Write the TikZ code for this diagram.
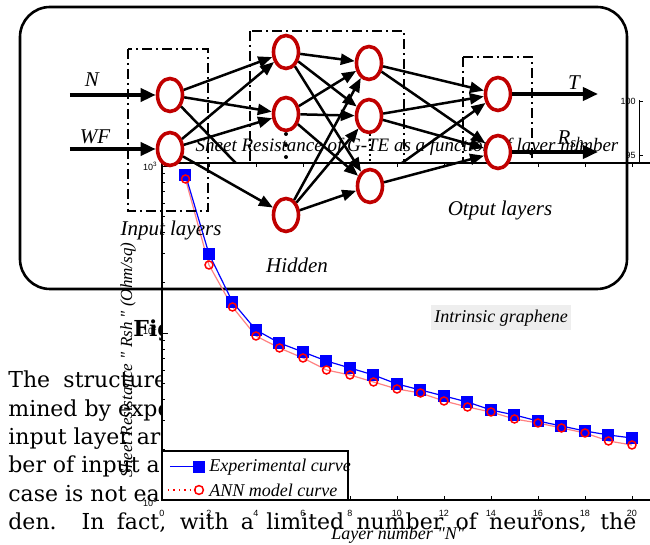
\documentclass[tikz,border=0pt]{standalone}
\usepackage{fontspec}
\usetikzlibrary{arrows.meta,shapes.geometric}
\newfontfamily\timesfont{Liberation Serif}
\newfontfamily\helvfont{Liberation Sans}
\newfontfamily\paperfont{DejaVu Serif}
\definecolor{nodered}{RGB}{192,0,0}
\definecolor{expblue}{RGB}{0,0,255}
\definecolor{annred}{RGB}{255,0,0}
\definecolor{annpink}{RGB}{255,130,130}
\definecolor{labelgray}{RGB}{238,238,238}
\tikzset{
        neuron/.style={ellipse, draw=nodered, line width=1.8pt, fill=white, minimum width=12.5pt, minimum height=16.5pt, inner sep=0pt},
        link/.style={line width=1.25pt, -{Triangle[length=7pt,width=5.5pt]}},
        io/.style={line width=1.8pt, -{Triangle[length=7.5pt,width=6.5pt]}},
        layerbox/.style={line width=1pt, dash pattern=on 5pt off 2pt on 1pt off 2pt},
        lbl/.style={inner sep=0pt, font=\timesfont\itshape\fontsize{10.5}{12}\selectfont},
        plottext/.style={inner sep=0pt, font=\timesfont\itshape\fontsize{9}{10}\selectfont},
        ticklbl/.style={inner sep=0pt, font=\helvfont\fontsize{4.5}{5}\selectfont},
        paper/.style={anchor=base west, inner sep=0pt, font=\paperfont\fontsize{11}{14}\selectfont}
}
\begin{document}
\begin{tikzpicture}[x=0.5pt, y=-0.5pt]
        \useasboundingbox (0,0) rectangle (650,545);
        \node[paper] (p1) at (8,388) {The\hspace{0.6em}structure};
        \node[paper] (p2) at (8,417) {mined by expe};
        \node[paper] (p3) at (8,445) {input layer ar};
        \node[paper] (p4) at (8,473) {ber of input a};
        \node[paper] (p5) at (8,502) {case is not ea};
        \node[paper] (p6) at (8,530) {\makebox[314pt][s]{den. In fact, with a limited number of neurons, the}};
        \node[paper, font=\paperfont\bfseries\fontsize{11}{14}\selectfont] (fig) at (133,337) {Fig};
        \fill[white] (162,163) rectangle (650,500);
        \draw[line width=1.3pt, rounded corners=15pt, fill=white] (20,7) rectangle (627,289);
        \node[plottext, anchor=base, font=\timesfont\itshape\fontsize{9.5}{11}\selectfont] (title) at (407,152) {Sheet Resistance of G-TE as a function of layer number};
        \draw[line width=0.7pt] (162,163) -- (650,163);
        \draw[line width=0.7pt] (162,163) -- (162,500) -- (650,500);
        \foreach \v in {0,2,...,20} {
                \draw[line width=0.4pt] ({162+23.5*\v},163) -- ({162+23.5*\v},167);
                \draw[line width=0.4pt] ({162+23.5*\v},500) -- ({162+23.5*\v},496);
                \node[ticklbl] at ({162+23.5*\v},513) {\v};
        }
        \foreach \k in {2,...,9} {
                \draw[line width=0.4pt] (162,{333-167*log10(\k)}) -- (165,{333-167*log10(\k)});
                \draw[line width=0.4pt] (162,{500-167*log10(\k)}) -- (165,{500-167*log10(\k)});
        }
        \draw[line width=0.4pt] (162,166) -- (168,166);
        \draw[line width=0.4pt] (162,333) -- (168,333);
        \node[ticklbl, anchor=east] (y3) at (158,166) {10\textsuperscript{3}};
        \node[ticklbl, anchor=east] (y2) at (158,330) {10\textsuperscript{2}};
        \node[ticklbl, anchor=east] (y1) at (158,502) {10\textsuperscript{1}};
        \draw[line width=0.4pt] (639,100) -- (639,163);
        \draw[line width=0.4pt] (639,101) -- (643,101);
        \draw[line width=0.4pt] (639,155) -- (643,155);
        \node[ticklbl, anchor=east] (r100) at (636,101) {100};
        \node[ticklbl, anchor=east] (r95) at (636,155) {95};
        \node[plottext, rotate=90, font=\timesfont\itshape\fontsize{8.5}{10}\selectfont] (ylab) at (128,360) {Sheet Resistance " Rsh " (Ohm/sq)};
        \node[plottext, anchor=base] (xlab) at (398,540) {Layer number "N"};
        \node[plottext, fill=labelgray, minimum width=70pt, minimum height=12.5pt] (intr) at (501,318) {Intrinsic graphene};
        \draw[annpink, line width=0.6pt] plot coordinates {(185.5,179) (209,265) (232.5,307) (256,336) (279.5,348) (303,358) (326.5,370) (350,375) (373.5,382) (397,389) (420.5,393) (444,401) (467.5,407) (491,412) (514.5,419) (538,423) (561.5,428) (585,433) (608.5,441) (632,445)};
        \draw[expblue, line width=0.6pt] plot coordinates {(185.5,175) (209,254) (232.5,302) (256,330) (279.5,343) (303,352) (326.5,361) (350,368) (373.5,375) (397,384) (420.5,390) (444,396) (467.5,402) (491,410) (514.5,415) (538,421) (561.5,426) (585,431) (608.5,435) (632,438)};
        \foreach \n/\y in {1/175,2/254,3/302,4/330,5/343,6/352,7/361,8/368,9/375,10/384,11/390,12/396,13/402,14/410,15/415,16/421,17/426,18/431,19/435,20/438}
                \fill[expblue] ({162+23.5*\n},\y) +(-6,-6) rectangle +(6,6);
        \foreach \n/\y in {1/179,2/265,3/307,4/336,5/348,6/358,7/370,8/375,9/382,10/389,11/393,12/401,13/407,14/412,15/419,16/423,17/428,18/433,19/441,20/445}
                \draw[annred, line width=0.75pt] ({162+23.5*\n},\y) circle[radius=2pt];
        \draw[line width=0.6pt, fill=white] (162,451) rectangle (348,500);
        \draw[expblue, line width=0.5pt] (170,467) -- (199,467);
        \fill[expblue] (199,467) +(-6,-6) rectangle +(6,6);
        \node[plottext, anchor=west] (leg1) at (209,467) {Experimental curve};
        \draw[annred, line width=0.7pt, dotted] (168,490) -- (199,490);
        \draw[annred, line width=0.75pt] (199,490) circle[radius=2.2pt];
        \node[plottext, anchor=west] (leg2) at (209,490) {ANN model curve};
        \draw[layerbox] (128,49) rectangle (208,211);
        \draw[layerbox] (250,31) rectangle (404,163);
        \draw[layerbox] (463,57) rectangle (532,163);
        \fill (286,134) circle[radius=1pt];
        \fill (286,145) circle[radius=1pt];
        \fill (286,157) circle[radius=1pt];
        \draw[line width=1.2pt, dash pattern=on 1.2pt off 1.3pt] (370,134) -- (370,162);
        \node[neuron] (in1) at (170,95) {};
        \node[neuron] (in2) at (170,149) {};
        \node[neuron] (ha1) at (286,52) {};
        \node[neuron] (ha2) at (286,114) {};
        \node[neuron] (ha3) at (286,215) {};
        \node[neuron] (hb1) at (369,63) {};
        \node[neuron] (hb2) at (369,116) {};
        \node[neuron] (hb3) at (370,186) {};
        \node[neuron] (out1) at (498,94) {};
        \node[neuron] (out2) at (498,152) {};
        \coordinate (nin) at (70,95);
        \coordinate (wfin) at (70,149);
        \coordinate (tout) at (598,94);
        \coordinate (rout) at (598,152);
        \draw[io] (nin) -- (in1);
        \draw[io] (wfin) -- (in2);
        \draw[io] (out1) -- (tout);
        \draw[io] (out2) -- (rout);
        \draw[link] (in1) -- (ha1);
        \draw[link] (in1) -- (ha2);
        \draw[link] (in2) -- (ha1);
        \draw[link] (in2) -- (ha2);
        \draw[link] (in2) -- (ha3);
        \foreach \a in {ha1,ha2,ha3}
                \foreach \b in {hb1,hb2,hb3}
                        \draw[link] (\a) -- (\b);
        \draw[link] (hb1) -- (out1);
        \draw[link] (hb1) -- (out2);
        \draw[link] (hb2) -- (out1);
        \draw[link] (hb2) -- (out2);
        \draw[link] (hb3) -- (out2);
        \begin{scope}
                \clip (0,0) rectangle (650,163);
                \draw[link] (in1) -- (ha3);
                \draw[link] (hb3) -- (out1);
        \end{scope}
        \node[lbl] (nlab) at (92,80) {N};
        \node[lbl] (wflab) at (95,137) {WF};
        \node[lbl] (inlab) at (171,230) {Input layers};
        \node[lbl] (hidlab) at (297,265) {Hidden};
        \node[lbl] (outlab) at (500,210) {Otput layers};
        \node[lbl] (tlab) at (574,83) {T};
        \node[lbl] (rlab) at (571,139) {R\textsubscript{sh}};
\end{tikzpicture}
\end{document}
